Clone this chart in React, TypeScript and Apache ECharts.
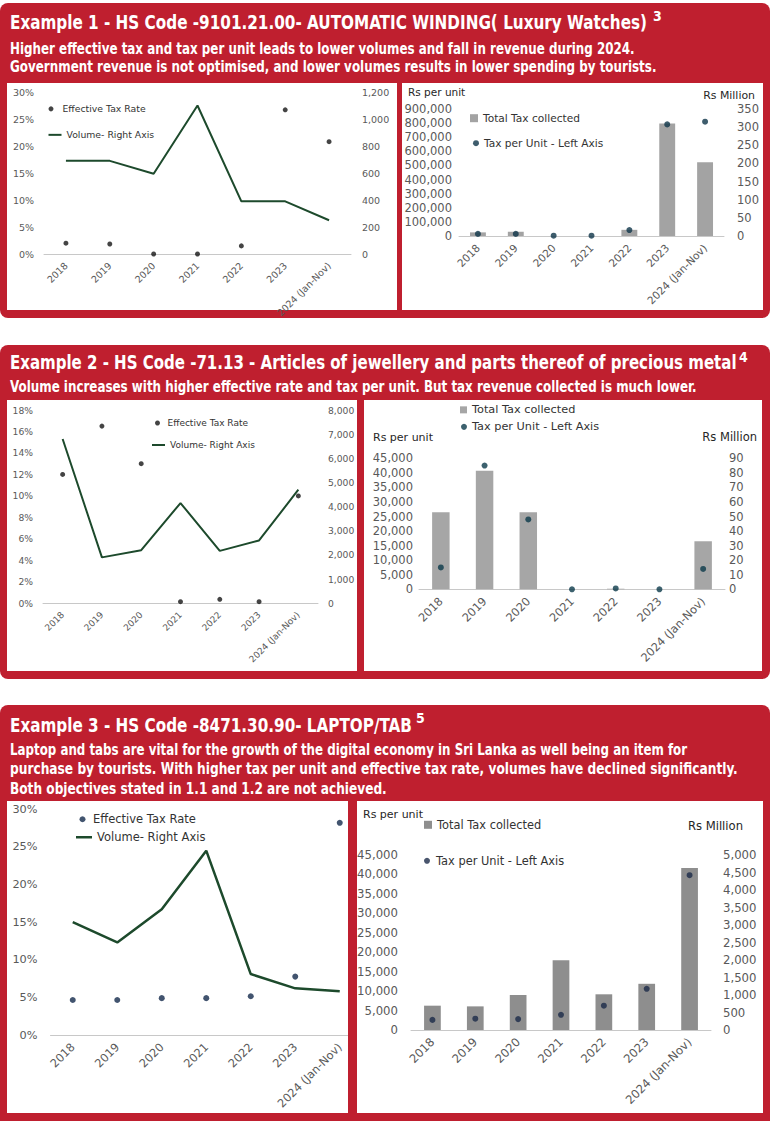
import React, { useEffect, useRef } from "react";
import * as echarts from "echarts";

// ---------- data ----------
const years = ["2018", "2019", "2020", "2021", "2022", "2023", "2024 (Jan-Nov)"];

// Example 1 - automatic winding watches
const watchEffectiveRate = [0.02, 0.0185, 0, 0, 0.015, 0.267, 0.208];
const watchVolume = [690, 690, 595, 1100, 390, 390, 250];
const watchTaxCollected = [10, 12, 0, 0, 17, 310, 203]; // Rs Million
const watchTaxPerUnit = [15000, 15000, 2000, 2000, 42000, 791000, 810000]; // Rs per unit

// Example 2 - jewellery
const jewelEffectiveRate = [0.12, 0.165, 0.13, 0.0015, 0.0037, 0.0015, 0.1];
const jewelVolume = [6800, 1900, 2200, 4150, 2170, 2600, 4700];
const jewelTaxCollected = [53, 81.5, 53, 0, 0.4, 0, 33];
const jewelTaxPerUnit = [7500, 42500, 24000, 0, 300, 0, 7000];

// Example 3 - laptop / tab
const laptopEffectiveRate = [0.0465, 0.0465, 0.049, 0.049, 0.0515, 0.0776, 0.282];
const laptopVolume = [150000, 123000, 167000, 245000, 81000, 62000, 58000];
const laptopTaxCollected = [695, 675, 1000, 1990, 1020, 1320, 4630];
const laptopTaxPerUnit = [2600, 2900, 2800, 3900, 6250, 10600, 39800];

const titles = [
  "Example 1 - HS Code -9101.21.00- AUTOMATIC WINDING( Luxury Watches)",
  "Example 2 - HS Code -71.13 - Articles of jewellery and parts thereof of precious metal",
  "Example 3 - HS Code -8471.30.90- LAPTOP/TAB",
];
const footnotes = ["3", "4", "5"];
const summaries = [
  "Higher effective tax and tax per unit leads to lower volumes and fall in revenue during 2024.",
  "Government revenue is not optimised, and lower volumes results in lower spending by tourists.",
  "Volume increases with higher effective rate and tax per unit. But tax revenue collected is much lower.",
  "Laptop and tabs are vital for the growth of the digital economy in Sri Lanka as well being an item for",
  "purchase by tourists. With higher tax per unit and effective tax rate, volumes have declined significantly.",
  "Both objectives stated in 1.1 and 1.2 are not achieved.",
];
const legendRate = "Effective Tax Rate";
const legendVolume = "Volume- Right Axis";
const legendTotal = "Total Tax collected";
const legendPerUnit = "Tax per Unit - Left Axis";
const unitLeft = "Rs per unit";
const unitRight = "Rs Million";

// ---------- styles / layout ----------
const RED = "#bf1f2f";
const HEAD_FONT = '"Liberation Sans Narrow", "DejaVu Sans Condensed", "Roboto Condensed", "Arial Narrow", sans-serif';
const CHART_FONT = '"DejaVu Sans", Verdana, sans-serif';
const LABEL_COLOR = "#595959";
const TEXT_COLOR = "#333333";
const LINE_GREEN = "#1d4a2c";

type LegendPos = { left: number; cy: number; iw: number; ih: number; font: number; icon: string };

function measure(text: string, size: number, weight: string, family: string) {
  const ctx = document.createElement("canvas").getContext("2d");
  if (!ctx) return 0;
  ctx.font = `${weight} ${size}px ${family}`;
  return ctx.measureText(text).width;
}

function fitText(text: string, x: number, y: number, width: number, size: number) {
  const w = measure(text, size, "bold", HEAD_FONT);
  const s = w > 0 ? width / w : 1;
  return {
    type: "text",
    x,
    y,
    scaleX: s,
    z: 20,
    style: {
      text,
      fill: "#ffffff",
      fontSize: size,
      fontWeight: "bold",
      fontFamily: HEAD_FONT,
      align: "left",
      verticalAlign: "middle",
    },
  };
}

function plainText(text: string, x: number, y: number, size: number, align: string, opts: any = {}) {
  return {
    type: "text",
    x,
    y,
    z: 20,
    style: {
      text,
      fill: opts.fill || "#262626",
      fontSize: size,
      fontWeight: opts.weight || "normal",
      fontFamily: opts.family || CHART_FONT,
      align,
      verticalAlign: "middle",
    },
  };
}

function buildOption() {
  const grid: any[] = [];
  const xAxis: any[] = [];
  const yAxis: any[] = [];
  const series: any[] = [];
  const legend: any[] = [];

  const addLegend = (name: string, p: LegendPos) => {
    legend.push({
      data: [{ name, icon: p.icon }],
      orient: "vertical",
      left: p.left,
      top: p.cy - Math.max(p.font, p.ih) / 2,
      padding: 0,
      itemWidth: p.iw,
      itemHeight: p.ih,
      selectedMode: false,
      formatter: (n: string) => n.split("#")[0],
      textStyle: { fontSize: p.font, color: TEXT_COLOR, fontFamily: CHART_FONT },
    });
  };

  const addAxes = (
    i: number,
    box: number[],
    xFont: number,
    left: { max: number; step: number; pct?: boolean; font: number; margin: number },
    right: { max: number; step: number; show: boolean; font: number; margin: number }
  ) => {
    grid.push({ left: box[0], top: box[1], width: box[2], height: box[3] });
    xAxis.push({
      type: "category",
      gridIndex: i,
      data: years,
      axisTick: { show: false },
      axisLine: { lineStyle: { color: "#c8c8c8", width: 1 } },
      axisLabel: { interval: 0, rotate: 45, fontSize: xFont, color: LABEL_COLOR, fontFamily: CHART_FONT, margin: 10 },
    });
    yAxis.push({
      type: "value",
      gridIndex: i,
      position: "left",
      min: 0,
      max: left.max,
      interval: left.step,
      splitLine: { show: false },
      axisLine: { show: false },
      axisTick: { show: false },
      axisLabel: {
        fontSize: left.font,
        color: LABEL_COLOR,
        fontFamily: CHART_FONT,
        margin: left.margin,
        formatter: (v: number) => (left.pct ? Math.round(v * 100) + "%" : Math.round(v).toLocaleString("en-US")),
      },
    });
    yAxis.push({
      type: "value",
      gridIndex: i,
      position: "right",
      show: right.show,
      min: 0,
      max: right.max,
      interval: right.step,
      splitLine: { show: false },
      axisLine: { show: false },
      axisTick: { show: false },
      axisLabel: {
        fontSize: right.font,
        color: LABEL_COLOR,
        fontFamily: CHART_FONT,
        margin: right.margin,
        formatter: (v: number) => Math.round(v).toLocaleString("en-US"),
      },
    });
  };

  const addLineChart = (
    i: number,
    rate: number[],
    volume: number[],
    dotColor: string,
    dotSize: number,
    lineWidth: number,
    lgRate: LegendPos,
    lgVol: LegendPos
  ) => {
    const rn = legendRate + "#" + i;
    const vn = legendVolume + "#" + i;
    series.push({
      type: "scatter",
      name: rn,
      xAxisIndex: i,
      yAxisIndex: 2 * i,
      data: rate,
      symbolSize: dotSize,
      itemStyle: { color: dotColor },
      z: 4,
    });
    series.push({
      type: "line",
      name: vn,
      xAxisIndex: i,
      yAxisIndex: 2 * i + 1,
      data: volume,
      symbol: "none",
      showSymbol: false,
      lineStyle: { color: LINE_GREEN, width: lineWidth },
      itemStyle: { color: LINE_GREEN },
      z: 3,
    });
    addLegend(rn, lgRate);
    addLegend(vn, lgVol);
  };

  const addBarChart = (
    i: number,
    total: number[],
    perUnit: number[],
    barColor: string,
    barWidth: string,
    dotColor: string,
    dotSize: number,
    lgTotal: LegendPos,
    lgUnit: LegendPos
  ) => {
    const tn = legendTotal + "#" + i;
    const pn = legendPerUnit + "#" + i;
    series.push({
      type: "bar",
      name: tn,
      xAxisIndex: i,
      yAxisIndex: 2 * i + 1,
      data: total,
      barWidth,
      itemStyle: { color: barColor },
      z: 2,
    });
    series.push({
      type: "scatter",
      name: pn,
      xAxisIndex: i,
      yAxisIndex: 2 * i,
      data: perUnit,
      symbolSize: dotSize,
      itemStyle: { color: dotColor },
      z: 4,
    });
    addLegend(tn, lgTotal);
    addLegend(pn, lgUnit);
  };

  // Example 1
  addAxes(0, [44, 92, 307, 162], 9.5,
    { max: 0.3, step: 0.05, pct: true, font: 9.5, margin: 10 },
    { max: 1200, step: 200, show: true, font: 9.5, margin: 11 });
  addLineChart(0, watchEffectiveRate, watchVolume, "#151515", 5, 2,
    { left: 48.5, cy: 109, iw: 13, ih: 5, font: 9.3, icon: "circle" },
    { left: 48.5, cy: 135, iw: 13, ih: 2, font: 9.3, icon: "rect" });

  addAxes(1, [459, 109, 265, 127], 10.6,
    { max: 900000, step: 100000, font: 11.5, margin: 7 },
    { max: 350, step: 50, show: true, font: 11.5, margin: 13 });
  addBarChart(1, watchTaxCollected, watchTaxPerUnit, "#a3a3a3", "42%", "#0e3448", 6,
    { left: 470, cy: 118, iw: 8, ih: 8, font: 10.6, icon: "rect" },
    { left: 473, cy: 143, iw: 6, ih: 6, font: 10.6, icon: "circle" });

  // Example 2
  addAxes(2, [43, 410, 275, 193.3], 9,
    { max: 0.18, step: 0.02, pct: true, font: 9.2, margin: 10 },
    { max: 8000, step: 1000, show: true, font: 9.2, margin: 10 });
  addLineChart(2, jewelEffectiveRate, jewelVolume, "#151515", 5, 2,
    { left: 155, cy: 423, iw: 10, ih: 5, font: 9, icon: "circle" },
    { left: 152, cy: 445, iw: 13, ih: 2, font: 9, icon: "rect" });

  addAxes(3, [419, 458.3, 306, 131], 11.4,
    { max: 45000, step: 5000, font: 11.5, margin: 6 },
    { max: 90, step: 10, show: true, font: 11.5, margin: 4 });
  addBarChart(3, jewelTaxCollected, jewelTaxPerUnit, "#a6a6a6", "40%", "#0b3a4a", 6,
    { left: 460, cy: 410, iw: 7, ih: 7, font: 11.3, icon: "rect" },
    { left: 461, cy: 427, iw: 6, ih: 6, font: 11.3, icon: "circle" });

  // Example 3
  addAxes(4, [50.5, 809.3, 311.5, 225.7], 11.4,
    { max: 0.3, step: 0.05, pct: true, font: 11.3, margin: 13 },
    { max: 300000, step: 50000, show: false, font: 11, margin: 10 });
  addLineChart(4, laptopEffectiveRate, laptopVolume, "#13294b", 6, 2.5,
    { left: 79.5, cy: 819, iw: 11, ih: 6, font: 11.5, icon: "circle" },
    { left: 76, cy: 837, iw: 16, ih: 2.5, font: 11.5, icon: "rect" });

  addAxes(5, [411, 855, 300, 175], 11.7,
    { max: 45000, step: 5000, font: 11.7, margin: 13 },
    { max: 5000, step: 500, show: true, font: 11.7, margin: 12 });
  addBarChart(5, laptopTaxCollected, laptopTaxPerUnit, "#8e8e8e", "39%", "#1c2a48", 6,
    { left: 424, cy: 825, iw: 8, ih: 8, font: 11.4, icon: "rect" },
    { left: 424, cy: 861, iw: 8, ih: 6, font: 11.4, icon: "circle" });

  // ---------- decorations ----------
  const g: any[] = [];
  const panels = [
    [0, 3, 770, 315],
    [0, 345, 770, 334],
    [0, 705, 770, 430],
  ];
  panels.forEach((p) =>
    g.push({ type: "rect", shape: { x: p[0], y: p[1], width: p[2], height: p[3], r: 8 }, style: { fill: RED }, z: -20 })
  );
  const boxes = [
    [7, 83, 390, 227],
    [402, 83, 361, 227],
    [7, 400, 350, 271],
    [364, 400, 398, 271],
    [7, 801, 341, 312],
    [357, 801, 406, 312],
  ];
  boxes.forEach((b) =>
    g.push({ type: "rect", shape: { x: b[0], y: b[1], width: b[2], height: b[3] }, style: { fill: "#ffffff" }, z: -10 })
  );
  // mask of example-3 left axis overflow
  g.push({ type: "rect", shape: { x: 348, y: 801, width: 9, height: 312 }, style: { fill: RED }, z: 30 });
  g.push({ type: "rect", shape: { x: 357, y: 1031, width: 9, height: 9 }, style: { fill: "#ffffff" }, z: 30 });

  // headings
  g.push(fitText(titles[0], 10, 21.5, 638, 20));
  g.push(fitText(titles[1], 10, 361.5, 727, 20));
  g.push(fitText(titles[2], 10, 725, 402, 20));
  g.push(plainText(footnotes[0], 653, 16, 14, "left", { fill: "#fff", weight: "bold", family: HEAD_FONT }));
  g.push(plainText(footnotes[1], 739, 356.5, 14, "left", { fill: "#fff", weight: "bold", family: HEAD_FONT }));
  g.push(plainText(footnotes[2], 416, 717.5, 14, "left", { fill: "#fff", weight: "bold", family: HEAD_FONT }));
  g.push(fitText(summaries[0], 10, 47.8, 625, 16));
  g.push(fitText(summaries[1], 10, 66, 647, 16));
  g.push(fitText(summaries[2], 10, 386.5, 687, 16));
  g.push(fitText(summaries[3], 10, 749.3, 678, 16));
  g.push(fitText(summaries[4], 10, 768.5, 728, 16));
  g.push(fitText(summaries[5], 10, 788.5, 377, 16));

  // unit labels
  g.push(plainText(unitLeft, 408, 92, 10.5, "left"));
  g.push(plainText(unitRight, 755, 95, 10.9, "right"));
  g.push(plainText(unitLeft, 373, 437, 11, "left"));
  g.push(plainText(unitRight, 757, 437, 11.5, "right"));
  g.push(plainText(unitLeft, 363, 814, 11, "left"));
  g.push(plainText(unitRight, 743, 826, 11.6, "right"));

  return {
    animation: false,
    backgroundColor: "#ffffff",
    grid,
    xAxis,
    yAxis,
    series,
    legend,
    graphic: { elements: g },
  };
}

export default function App() {
  const ref = useRef<HTMLDivElement>(null);
  useEffect(() => {
    if (!ref.current) return;
    const chart = echarts.init(ref.current, null, { renderer: "svg" });
    chart.setOption(buildOption() as any);
    return () => chart.dispose();
  }, []);
  return (
    <div
      ref={ref}
      style={{ position: "absolute", left: 0, top: 0, width: 770, height: 1121, background: "#ffffff" }}
    />
  );
}
